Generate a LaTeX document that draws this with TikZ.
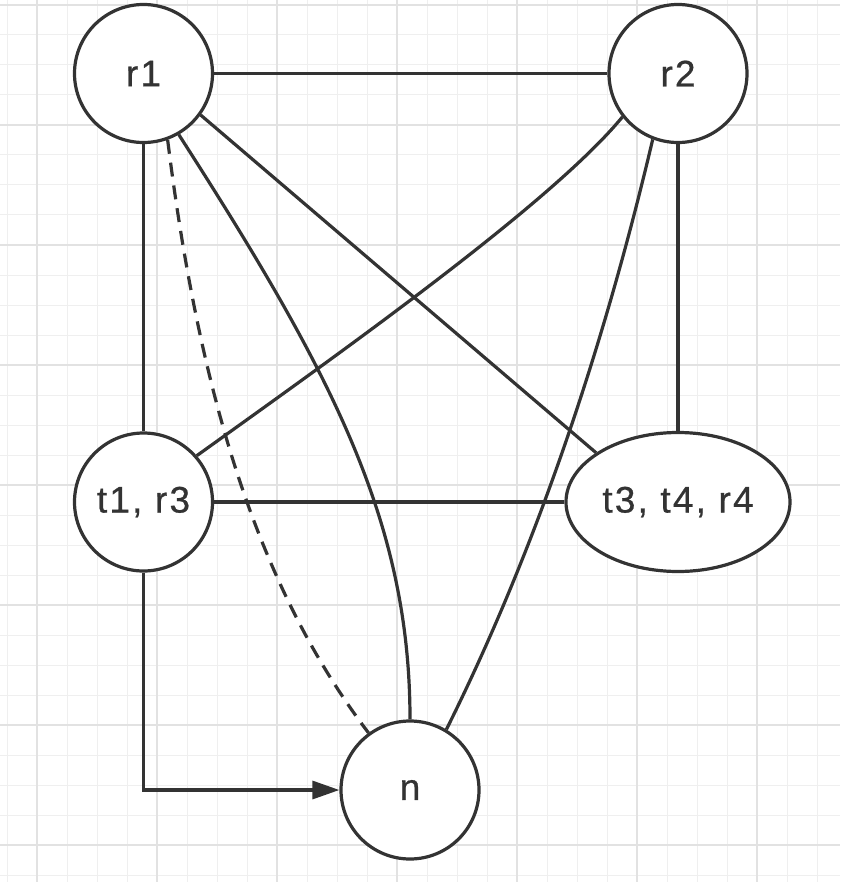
\documentclass[tikz,border=0pt]{standalone}
\usepackage{xcolor}
\usepackage{fontspec}
\usepackage{tikz}
\usetikzlibrary{shapes.geometric,arrows.meta}
\newfontfamily\labelfont{Liberation Sans}[LetterSpace=6,FakeBold=0.6]
\definecolor{ink}{HTML}{333333}
\definecolor{gridthin}{HTML}{EFEFEF}
\definecolor{gridthick}{HTML}{E2E2E2}

\begin{document}
\begin{tikzpicture}[x=0.5pt,y=0.5pt,yscale=-1,xscale=1,
  vertex/.style={circle,draw=ink,fill=white,line width=1.6pt,minimum size=69pt,inner sep=0pt,
    font=\labelfont\fontsize{18.5}{22}\selectfont,text=ink},
  wide vertex/.style={vertex,ellipse,minimum width=112pt,minimum height=69.5pt},
  link/.style={draw=ink,line width=1.6pt},
  dashed link/.style={link,dash pattern=on 7pt off 4.5pt}]
\useasboundingbox (0,0) rectangle (840,882);
%Grid
\foreach \gx in {7,37,...,840} \draw [gridthin,line width=0.5pt] (\gx,0) -- (\gx,882);
\foreach \gy in {5,35,...,882} \draw [gridthin,line width=0.5pt] (0,\gy) -- (840,\gy);
\foreach \gx in {37,157,...,840} \draw [gridthick,line width=0.75pt] (\gx,0) -- (\gx,882);
\foreach \gy in {5,125,...,882} \draw [gridthick,line width=0.75pt] (0,\gy) -- (840,\gy);
%Nodes
\node [vertex] (r1) at (143.5,73.5) {r1};
\node [vertex] (r2) at (678,73.5) {r2};
\node [vertex] (t1r3) at (143.5,502) {t1, r3};
\node [wide vertex] (t3t4r4) at (678,502) {t3, t4, r4};
\node [vertex] (n) at (410,790) {n};
%Edges
\draw [link] (r1.east) -- (r2.west);
\draw [link] (r1.south) -- (t1r3.north);
\draw [link] (r2.south) -- (t3t4r4.north);
\draw [link] (t1r3.east) -- (t3t4r4.west);
\draw [link] (r1.-36) -- (t3t4r4.149);
\draw [link] (r2.218) .. controls (550,205) and (330,360) .. (t1r3.41);
\draw [link] (r2.-111) .. controls (605,342) and (537,548) .. (n.59);
\draw [link] (r1.-60) .. controls (330,370) and (410,520) .. (n.north);
\draw [dashed link] (r1.-70) .. controls (200,400) and (260,590) .. (n.126);
\draw [link,-{Triangle[length=13.5pt,width=9pt]}] (t1r3.south) |- (n.west);
\end{tikzpicture}
\end{document}
